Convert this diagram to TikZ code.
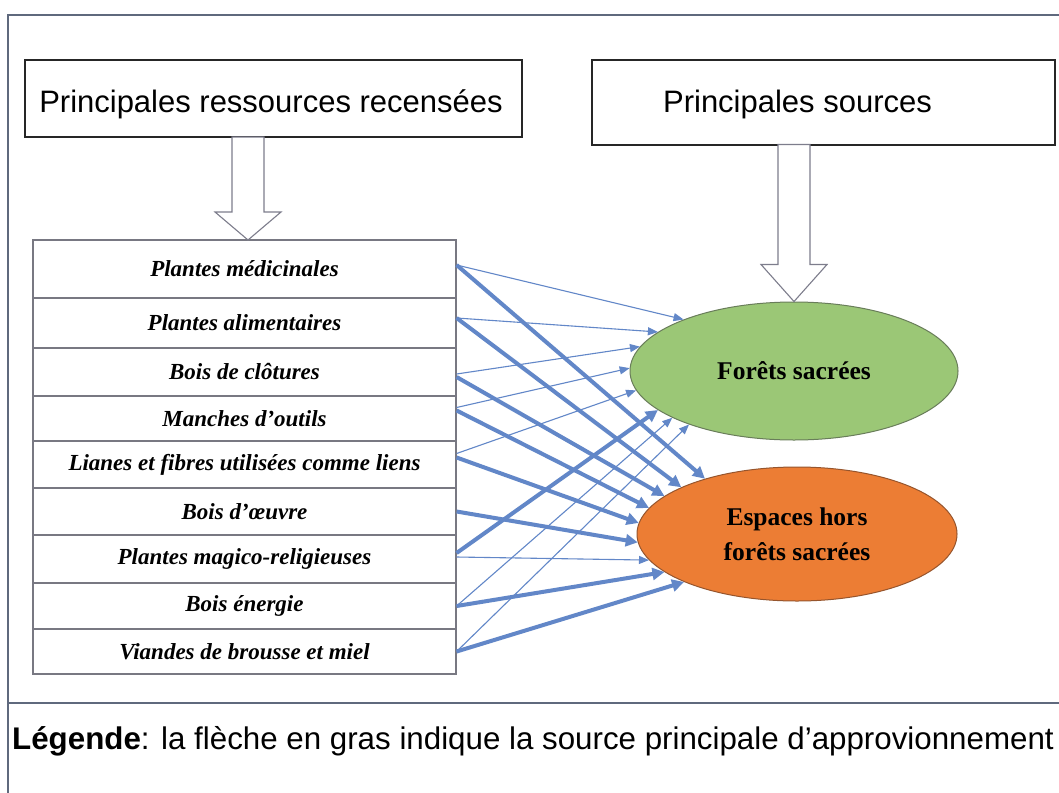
\documentclass[tikz,border=0pt]{standalone}
\usepackage{fontspec}
\setmainfont{Liberation Serif}
\setsansfont{Liberation Sans}
\usetikzlibrary{arrows.meta,shapes.geometric}

\definecolor{arrowblue}{RGB}{98,135,200}
\definecolor{framegray}{RGB}{95,105,125}
\definecolor{tablegray}{RGB}{120,120,130}
\definecolor{hollowgray}{RGB}{125,125,140}
\definecolor{forestgreen}{RGB}{155,199,118}
\definecolor{forestedge}{RGB}{105,125,90}
\definecolor{outsideorange}{RGB}{236,125,52}
\definecolor{outsideedge}{RGB}{150,85,45}

\tikzset{
  titlebox/.style={draw=black!85, line width=1.4pt, fill=white, inner sep=0pt},
  titletext/.style={font=\sffamily\fontsize{31}{37}\selectfont, inner sep=0pt, anchor=base},
  resrow/.style={draw=tablegray, line width=1.2pt, fill=white, minimum width=423pt, inner sep=0pt,
    font=\fontsize{23}{27}\selectfont\bfseries\itshape},
  source/.style={ellipse, line width=1pt, inner sep=0pt, align=center,
    font=\fontsize{25.5}{35}\selectfont\bfseries},
  hollow/.style={draw=hollowgray, line width=1.1pt, fill=white},
  thinarrow/.style={arrowblue, line width=1.1pt, -{Triangle[length=10pt,width=8pt]}},
  boldarrow/.style={arrowblue, line width=4pt, -{Triangle[length=12pt,width=12pt]}},
}

\begin{document}
\begin{tikzpicture}[x=1pt,y=-1pt]
  \fill[white] (0,0) rectangle (1059,792);
  \useasboundingbox (0,0) rectangle (1059,792);
  \clip (0,0) rectangle (1059,792);

  \draw[framegray, line width=1.5pt] (8,800) -- (8,15) -- (1070,15);
  \draw[framegray, line width=1.5pt] (8,703) -- (1070,703);

  \node[titlebox, minimum width=497pt, minimum height=77pt] (resbox) at (273.5,98.5) {};
  \node[titletext] (restitle) at (271,112) {Principales ressources recensées};
  \node[titlebox, minimum width=463pt, minimum height=85pt] (srcbox) at (823.5,102.5) {};
  \node[titletext] (srctitle) at (797.5,112) {Principales sources};

  \node[resrow, minimum height=58pt] (r1) at (244.5,269) {Plantes médicinales};
  \node[resrow, minimum height=50pt] (r2) at (244.5,323) {Plantes alimentaires};
  \node[resrow, minimum height=48pt] (r3) at (244.5,372) {Bois de clôtures};
  \node[resrow, minimum height=45pt] (r4) at (244.5,418.5) {Manches d’outils};
  \node[resrow, minimum height=47pt] (r5) at (244.5,464.5) {Lianes et fibres utilisées comme liens};
  \node[resrow, minimum height=47pt] (r6) at (244.5,511.5) {Bois d’œuvre};
  \node[resrow, minimum height=48pt] (r7) at (244.5,559) {Plantes magico-religieuses};
  \node[resrow, minimum height=46pt] (r8) at (244.5,606) {Bois énergie};
  \node[resrow, minimum height=45pt] (r9) at (244.5,651.5) {Viandes de brousse et miel};

  \node[source, draw=forestedge, fill=forestgreen, minimum width=328pt, minimum height=138pt]
    (fs) at (794,371) {Forêts sacrées};
  \node[source, draw=outsideedge, fill=outsideorange, minimum width=320pt, minimum height=134pt]
    (hfs) at (797,534) {Espaces hors\\forêts sacrées};

  \coordinate (tipA) at (248,240);
  \draw[hollow] (tipA) -- ++(-33,-28) -- ++(17,0) -- ++(0,-75) -- ++(32,0) -- ++(0,75) -- ++(17,0) -- cycle;
  \draw[hollow] (fs.north) -- ++(-33,-37) -- ++(17,0) -- ++(0,-120) -- ++(32,0) -- ++(0,120) -- ++(17,0) -- cycle;

  \draw[thinarrow] ([yshift=4pt]r1.east) -- (fs.155);
  \draw[thinarrow] ([yshift=5pt]r2.east) -- (fs.164.4);
  \draw[thinarrow] ([yshift=-2pt]r3.east) -- (fs.171.2);
  \draw[thinarrow] ([yshift=11pt]r4.east) -- (fs.179.3);
  \draw[thinarrow] ([yshift=11pt]r5.east) -- (fs.187.5);
  \draw[thinarrow] ([yshift=2pt]r7.east) -- (hfs.190.7);
  \draw[thinarrow] (r8.east) -- (fs.201.7);
  \draw[thinarrow] (r9.east) -- (fs.207.9);

  \draw[boldarrow] ([yshift=4pt]r1.east) -- (hfs.149.4);
  \draw[boldarrow] ([yshift=5pt]r2.east) -- (hfs.158);
  \draw[boldarrow] ([yshift=-5pt]r3.east) -- (hfs.164.8);
  \draw[boldarrow] ([yshift=8pt]r4.east) -- (hfs.170.2);
  \draw[boldarrow] ([yshift=7pt]r5.east) -- (hfs.176.5);
  \draw[boldarrow] (r6.east) -- (hfs.183.1);
  \draw[boldarrow] ([yshift=6pt]r7.east) -- (fs.196.5);
  \draw[boldarrow] (r8.east) -- (hfs.196.9);
  \draw[boldarrow] (r9.east) -- (hfs.203.8);

  \node[anchor=base west, inner sep=0pt, font=\sffamily\fontsize{31.3}{37}\selectfont] (legend) at (12,749)
    {\textbf{Légende}: la flèche en gras indique la source principale d’approvionnement};
\end{tikzpicture}
\end{document}
